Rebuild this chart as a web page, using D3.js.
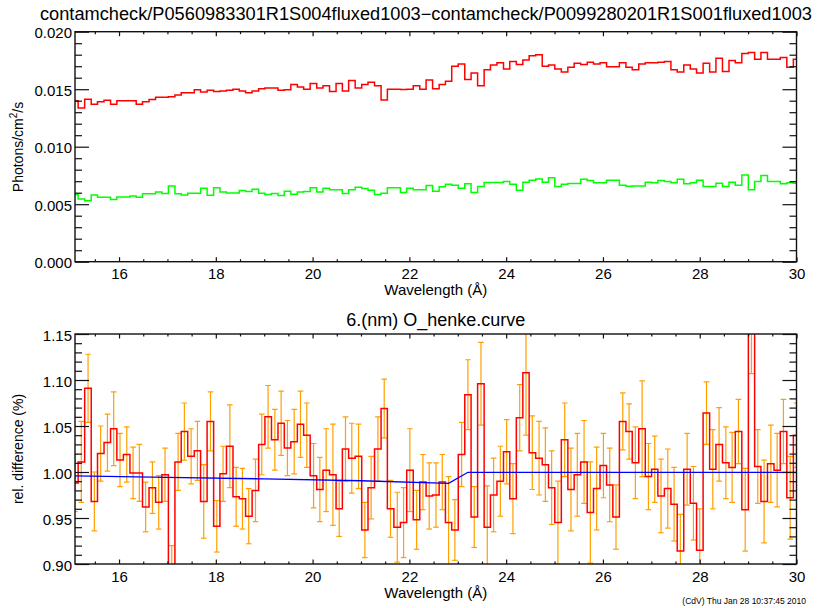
<!DOCTYPE html>
<html><head><meta charset="utf-8">
<script src="https://cdn.jsdelivr.net/npm/d3@7"></script>
<style>body{margin:0;background:#fff}</style>
</head><body>
<svg id="chart" width="820" height="608"></svg>
<script>
// ---------------- data ----------------
const titleTop = "contamcheck/P0560983301R1S004fluxed1003\u2212contamcheck/P0099280201R1S001fluxed1003";
const titleBottom = "6.(nm) O_henke.curve";
const footer = "(CdV) Thu Jan 28 10:37:45 2010";

const wavelength = [15.09,15.22,15.36,15.49,15.62,15.76,15.89,16.02,16.16,16.29,
16.42,16.55,16.69,16.82,16.95,17.09,17.22,17.35,17.49,17.62,
17.75,17.89,18.02,18.15,18.29,18.42,18.55,18.68,18.82,18.95,
19.08,19.22,19.35,19.48,19.62,19.75,19.88,20.02,20.15,20.28,
20.42,20.55,20.68,20.81,20.95,21.08,21.21,21.35,21.48,21.61,
21.75,21.88,22.01,22.15,22.28,22.41,22.55,22.68,22.81,22.94,
23.08,23.21,23.34,23.48,23.61,23.74,23.88,24.01,24.14,24.28,
24.41,24.54,24.68,24.81,24.94,25.07,25.21,25.34,25.47,25.61,
25.74,25.87,26.01,26.14,26.27,26.41,26.54,26.67,26.81,26.94,
27.07,27.20,27.34,27.47,27.60,27.74,27.87,28.00,28.14,28.27,
28.40,28.54,28.67,28.80,28.94,29.07,29.20,29.33,29.47,29.60,
29.73,29.87,30.00];

// red: P0560983301 fluxed spectrum (photons/cm2/s)
const fluxNew = [0.01400,0.01337,0.01413,0.01369,0.01390,0.01404,0.01370,0.01400,0.01400,0.01400,
0.01370,0.01390,0.01410,0.01430,0.01430,0.01435,0.01450,0.01470,0.01470,0.01496,
0.01476,0.01490,0.01480,0.01485,0.01490,0.01500,0.01485,0.01470,0.01485,0.01505,
0.01510,0.01510,0.01490,0.01496,0.01540,0.01520,0.01500,0.01550,0.01510,0.01530,
0.01480,0.01550,0.01485,0.01575,0.01510,0.01540,0.01560,0.01530,0.01407,0.01500,
0.01500,0.01498,0.01500,0.01530,0.01500,0.01580,0.01505,0.01540,0.01570,0.01700,
0.01720,0.01585,0.01640,0.01530,0.01670,0.01710,0.01730,0.01675,0.01740,0.01715,
0.01755,0.01790,0.01800,0.01700,0.01710,0.01675,0.01650,0.01690,0.01725,0.01715,
0.01735,0.01720,0.01730,0.01695,0.01695,0.01730,0.01690,0.01670,0.01720,0.01730,
0.01730,0.01735,0.01740,0.01670,0.01650,0.01710,0.01675,0.01640,0.01725,0.01650,
0.01770,0.01655,0.01750,0.01730,0.01810,0.01820,0.01760,0.01820,0.01760,0.01760,
0.01775,0.01690,0.01760];

// green: P0099280201 fluxed spectrum (photons/cm2/s)
const fluxOld = [0.00584,0.00546,0.00531,0.00581,0.00560,0.00560,0.00540,0.00563,0.00563,0.00572,
0.00560,0.00590,0.00590,0.00607,0.00592,0.00659,0.00590,0.00581,0.00595,0.00595,
0.00639,0.00578,0.00642,0.00607,0.00598,0.00598,0.00619,0.00610,0.00630,0.00595,
0.00584,0.00592,0.00575,0.00613,0.00587,0.00607,0.00610,0.00642,0.00607,0.00639,
0.00625,0.00625,0.00592,0.00625,0.00648,0.00636,0.00622,0.00584,0.00595,0.00642,
0.00642,0.00601,0.00639,0.00625,0.00625,0.00662,0.00613,0.00651,0.00674,0.00665,
0.00639,0.00677,0.00601,0.00654,0.00688,0.00688,0.00688,0.00697,0.00674,0.00622,
0.00691,0.00709,0.00720,0.00691,0.00729,0.00654,0.00674,0.00680,0.00680,0.00718,
0.00706,0.00686,0.00686,0.00709,0.00709,0.00665,0.00656,0.00659,0.00659,0.00691,
0.00686,0.00706,0.00697,0.00686,0.00718,0.00677,0.00686,0.00709,0.00654,0.00654,
0.00683,0.00654,0.00691,0.00665,0.00755,0.00625,0.00697,0.00750,0.00697,0.00697,
0.00677,0.00686,0.00683];

// relative difference and its error
const relDiff = [0.988,1.011,1.091,0.968,1.020,1.032,1.047,1.013,1.019,0.999,
0.999,0.962,0.983,0.967,0.997,0.875,1.011,1.044,1.017,1.023,
0.968,1.055,0.941,0.998,1.028,0.973,0.971,0.952,0.980,1.030,
1.060,1.035,1.053,1.026,1.033,1.052,1.040,0.996,0.981,1.002,
0.997,0.960,1.025,1.015,1.017,0.937,0.983,1.025,1.069,0.960,
0.940,0.945,1.002,0.948,0.989,0.974,0.975,0.989,0.945,0.937,
1.019,1.084,0.951,1.096,0.940,0.975,0.990,1.022,0.971,1.059,
1.108,1.021,1.015,1.008,0.983,0.945,1.035,0.981,0.997,1.011,
0.956,0.982,1.007,0.986,0.951,1.055,1.044,1.010,1.047,0.995,
1.003,0.974,0.982,0.965,0.914,1.003,0.966,0.915,1.064,1.003,
1.030,1.010,1.005,1.044,0.959,1.180,1.006,0.968,1.009,1.002,
1.044,0.972,1.040];

const relErr = [0.031,0.044,0.037,0.032,0.030,0.031,0.040,0.029,0.030,0.028,
0.031,0.027,0.028,0.029,0.029,0.045,0.031,0.031,0.030,0.032,
0.040,0.032,0.028,0.030,0.045,0.032,0.033,0.030,0.034,0.033,
0.034,0.033,0.035,0.030,0.035,0.036,0.035,0.035,0.035,0.045,
0.055,0.030,0.035,0.038,0.035,0.030,0.034,0.035,0.032,0.031,
0.038,0.038,0.045,0.032,0.030,0.036,0.035,0.030,0.050,0.033,
0.035,0.038,0.033,0.045,0.045,0.040,0.038,0.035,0.038,0.036,
0.068,0.040,0.040,0.040,0.040,0.045,0.040,0.045,0.045,0.045,
0.055,0.045,0.035,0.040,0.035,0.031,0.030,0.039,0.052,0.036,
0.036,0.040,0.043,0.040,0.040,0.039,0.040,0.045,0.034,0.043,
0.040,0.039,0.038,0.035,0.045,0.073,0.040,0.045,0.042,0.040,
0.035,0.045,0.035];

// model curve (O Henke transmission ratio)
const modelWave  = [15.09, 17.0, 19.0, 21.0, 22.81, 23.21, 30.0];
const modelCurve = [0.9957, 0.9942, 0.9925, 0.9905, 0.9877, 0.9997, 0.9996];

const xMajorTicks = [16,18,20,22,24,26,28,30];
const fluxTicks = [0.000,0.005,0.010,0.015,0.020];
const diffTicks = [0.90,0.95,1.00,1.05,1.10,1.15];

// ---------------- layout ----------------
const svg = d3.select("#chart");
const FONT = "'Liberation Sans', Arial, Helvetica, sans-serif";
const L = 75, R = 796.5;
const top1 = 31.7, bot1 = 261.7, top2 = 334, bot2 = 564;

svg.append("rect").attr("width",820).attr("height",608).attr("fill","#fff");

const x1 = d3.scaleLinear().domain([15.09,30.0]).range([L,R]);
const yFlux = d3.scaleLinear().domain([0,0.020]).range([bot1,top1]);
const yDiff = d3.scaleLinear().domain([0.90,1.15]).range([bot2,top2]);

const xMinor = d3.range(15.5,30.01,0.5).map(v=>+v.toFixed(2)).filter(v=>!xMajorTicks.includes(v));
const fluxMinor = d3.range(0,0.0201,0.001).map(v=>+v.toFixed(4)).filter(v=>!fluxTicks.some(t=>Math.abs(t-v)<1e-9));
const diffMinor = d3.range(0.90,1.1501,0.01).map(v=>+v.toFixed(3)).filter(v=>!diffTicks.some(t=>Math.abs(t-v)<1e-9));

const AX = "#111";

function drawFrame(yS, top, bot, majors, minors, fmt, id){
  const g = svg.append("g");
  g.append("g").attr("transform",`translate(0,${bot})`)
    .call(d3.axisBottom(x1).tickValues(xMajorTicks).tickSize(-4.5).tickPadding(7).tickFormat(d3.format("d")));
  g.append("g").attr("transform",`translate(0,${bot})`)
    .call(d3.axisBottom(x1).tickValues(xMinor).tickSize(-2.5).tickFormat(""));
  g.append("g").attr("transform",`translate(0,${top})`)
    .call(d3.axisTop(x1).tickValues(xMajorTicks).tickSize(-4.5).tickFormat(""));
  g.append("g").attr("transform",`translate(0,${top})`)
    .call(d3.axisTop(x1).tickValues(xMinor).tickSize(-2.5).tickFormat(""));
  const ly = g.append("g").attr("transform",`translate(${L},0)`)
    .call(d3.axisLeft(yS).tickValues(majors).tickSize(-14).tickPadding(3).tickFormat(fmt));
  ly.selectAll(".tick text").attr("dy","0.4em");
  g.append("g").attr("transform",`translate(${L},0)`)
    .call(d3.axisLeft(yS).tickValues(minors).tickSize(-7).tickFormat(""));
  g.append("g").attr("transform",`translate(${R},0)`)
    .call(d3.axisRight(yS).tickValues(majors).tickSize(-14).tickFormat(""));
  g.append("g").attr("transform",`translate(${R},0)`)
    .call(d3.axisRight(yS).tickValues(minors).tickSize(-7).tickFormat(""));
  g.selectAll(".domain").remove();
  g.selectAll(".tick line").attr("stroke",AX).attr("stroke-width",1.2);
  g.selectAll(".tick text").attr("font-family",FONT).attr("font-size",15).attr("fill","#000");
  g.append("rect").attr("x",L).attr("y",top).attr("width",R-L).attr("height",bot-top)
    .attr("fill","none").attr("stroke",AX).attr("stroke-width",1.4);
  svg.append("clipPath").attr("id",id).append("rect")
    .attr("x",L).attr("y",top).attr("width",R-L).attr("height",bot-top);
}

const clip1 = svg.append("g").attr("clip-path","url(#clip1)");
const clip2 = svg.append("g").attr("clip-path","url(#clip2)");

// ---------- panel 1 ----------
const stepFlux = d3.line().x((d,i)=>x1(wavelength[i])).y(d=>yFlux(d)).curve(d3.curveStep);
clip1.append("path").attr("d",stepFlux(fluxNew)).attr("fill","none")
  .attr("stroke","#ff0000").attr("stroke-width",1.5);
clip1.append("path").attr("d",stepFlux(fluxOld)).attr("fill","none")
  .attr("stroke","#00ff00").attr("stroke-width",1.5);

// ---------- panel 2 ----------
const eb = clip2.append("g").attr("stroke","#ffa000").attr("stroke-width",1.2);
relDiff.forEach((v,i)=>{
  const cx = x1(wavelength[i]);
  const yt = yDiff(v+relErr[i]), yb = yDiff(v-relErr[i]);
  eb.append("line").attr("x1",cx).attr("x2",cx).attr("y1",yt).attr("y2",yb);
  eb.append("line").attr("x1",cx-2.8).attr("x2",cx+2.8).attr("y1",yt).attr("y2",yt);
  eb.append("line").attr("x1",cx-2.8).attr("x2",cx+2.8).attr("y1",yb).attr("y2",yb);
});
const stepDiff = d3.line().x((d,i)=>x1(wavelength[i])).y(d=>yDiff(d)).curve(d3.curveStep);
clip2.append("path").attr("d",stepDiff(relDiff)).attr("fill","none")
  .attr("stroke","#ff0000").attr("stroke-width",1.5);
const modelLine = d3.line().x((d,i)=>x1(modelWave[i])).y(d=>yDiff(d));
clip2.append("path").attr("d",modelLine(modelCurve)).attr("fill","none")
  .attr("stroke","#0000ff").attr("stroke-width",1.3);

drawFrame(yFlux, top1, bot1, fluxTicks, fluxMinor, d3.format(".3f"), "clip1");
drawFrame(yDiff, top2, bot2, diffTicks, diffMinor, d3.format(".2f"), "clip2");

// ---------- texts ----------
svg.append("text").attr("x",40).attr("y",20).attr("font-family",FONT).attr("font-size",17.5)
  .attr("textLength",772).attr("lengthAdjust","spacingAndGlyphs").text(titleTop);
svg.append("text").attr("x",(L+R)/2).attr("y",326).attr("text-anchor","middle")
  .attr("font-family",FONT).attr("font-size",18).text(titleBottom);

[bot1+33, bot2+34].forEach(yy=>{
  svg.append("text").attr("x",(L+R)/2).attr("y",yy).attr("text-anchor","middle")
    .attr("font-family",FONT).attr("font-size",15).text("Wavelength (\u00C5)");
});

const yl1 = svg.append("text").attr("transform",`translate(23,147) rotate(-90)`)
  .attr("text-anchor","middle").attr("font-family",FONT).attr("font-size",14);
yl1.append("tspan").text("Photons/cm");
yl1.append("tspan").attr("font-size",10).attr("dy",-6).text("2");
yl1.append("tspan").attr("dy",6).text("/s");

svg.append("text").attr("transform",`translate(23,449) rotate(-90)`)
  .attr("text-anchor","middle").attr("font-family",FONT).attr("font-size",14)
  .text("rel. difference (%)");

svg.append("text").attr("x",806).attr("y",604).attr("text-anchor","end")
  .attr("font-family",FONT).attr("font-size",8.5).text(footer);
</script>
</body></html>
